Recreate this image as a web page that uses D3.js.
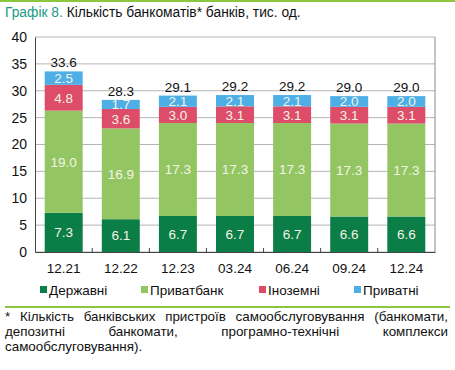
<!DOCTYPE html>
<html>
<head>
<meta charset="utf-8">
<script src="https://cdn.jsdelivr.net/npm/d3@7"></script>
<style>
  body { margin: 0; background: #fff; font-family: "Liberation Sans", Arial, sans-serif; }
  #wrap { position: relative; width: 455px; height: 370px; overflow: hidden; }
  #note {
    position: absolute; left: 5px; top: 310px; width: 443px;
    font-size: 13.4px; line-height: 14.8px; color: #111;
  }
  #note .j { text-align: justify; text-align-last: justify; }
</style>
</head>
<body>
<div id="wrap">
  <div id="chart"></div>
  <div id="note">
    <div class="j">* Кількість банківських пристроїв самообслуговування (банкомати,</div>
    <div class="j">депозитні банкомати, програмно-технічні комплекси</div>
    <div>самообслуговування).</div>
  </div>
</div>
<script>
// data, тис. од.
var periods = ["12.21", "12.22", "12.23", "03.24", "06.24", "09.24", "12.24"];
var seriesNames = ["Державні", "Приватбанк", "Іноземні", "Приватні"];
var derzhavni = [7.3, 6.1, 6.7, 6.7, 6.7, 6.6, 6.6];
var privatbank = [19.0, 16.9, 17.3, 17.3, 17.3, 17.3, 17.3];
var inozemni = [4.8, 3.6, 3.0, 3.1, 3.1, 3.1, 3.1];
var pryvatni = [2.5, 1.7, 2.1, 2.1, 2.1, 2.0, 2.0];
var totals = [33.6, 28.3, 29.1, 29.2, 29.2, 29.0, 29.0];
var yTicks = [0, 5, 10, 15, 20, 25, 30, 35, 40];

var colors = ["#0b7d46", "#93c663", "#dd4d69", "#4eafe6"];

var W = 455, H = 370;
var margin = { top: 37, left: 35, right: 20, bottom: 118 };
var width = W - margin.left - margin.right;
var height = H - margin.top - margin.bottom;
var fs = "13.5px";

// build rows for the stack
var rows = periods.map(function (p, i) {
    return { period: p, "Державні": derzhavni[i], "Приватбанк": privatbank[i],
             "Іноземні": inozemni[i], "Приватні": pryvatni[i], total: totals[i] };
});
var stacked = d3.stack().keys(seriesNames)(rows);

var svg = d3.select("#chart").append("svg")
    .attr("width", W).attr("height", H)
    .style("position", "absolute").style("left", 0).style("top", 0);

// top green rule + title
svg.append("rect").attr("x", 0).attr("y", 0).attr("width", W).attr("height", 2).attr("fill", "#8cc63e");
var title = svg.append("text").attr("x", 5).attr("y", 17)
    .style("font-size", "13.8px");
title.append("tspan").attr("fill", "#1d9a86").text("Графік 8. ");
title.append("tspan").attr("fill", "#111").text("Кількість банкоматів* банків, тис. од.");

var g = svg.append("g").attr("transform", "translate(" + margin.left + "," + margin.top + ")");

var x = d3.scaleBand().domain(periods).range([0, width]).paddingInner(0.335).paddingOuter(0.17);
var y = d3.scaleLinear().domain([0, 40]).range([height, 0]);

// gridlines
g.selectAll(".grid").data(yTicks).enter().append("line")
    .attr("x1", 0).attr("x2", width)
    .attr("y1", function (d) { return y(d); }).attr("y2", function (d) { return y(d); })
    .attr("stroke", "#b5b5b5").attr("stroke-width", 1);
// right border
g.append("line").attr("x1", width).attr("x2", width).attr("y1", 0).attr("y2", height)
    .attr("stroke", "#8a8a8a");

// y axis
var yAxis = g.append("g").call(d3.axisLeft(y).tickValues(yTicks).tickSize(0).tickPadding(8));
yAxis.select(".domain").attr("stroke", "#444");
yAxis.selectAll("text").style("font-size", "14px").style("font-family", "Liberation Sans, Arial, sans-serif").attr("fill", "#111");

// clip for each bar (labels get cut at the bar top like in the source)
rows.forEach(function (d, i) {
    svg.append("clipPath").attr("id", "clip" + i).append("rect")
        .attr("x", x(d.period)).attr("width", x.bandwidth())
        .attr("y", y(d.total)).attr("height", y(0) - y(d.total));
});

// bars
var layers = g.selectAll(".layer").data(stacked).enter().append("g")
    .attr("fill", function (d, i) { return colors[i]; });
layers.selectAll("rect").data(function (d) { return d; }).enter().append("rect")
    .attr("x", function (d) { return x(d.data.period); })
    .attr("width", x.bandwidth())
    .attr("y", function (d) { return y(d[1]); })
    .attr("height", function (d) { return y(d[0]) - y(d[1]); });

// segment labels
layers.each(function (s) {
    d3.select(this).selectAll("text").data(s).enter().append("text")
        .attr("clip-path", function (d, i) { return "url(#clip" + i + ")"; })
        .attr("x", function (d) { return x(d.data.period) + x.bandwidth() / 2; })
        .attr("y", function (d) { return (y(d[0]) + y(d[1])) / 2; })
        .attr("dy", "0.36em")
        .attr("text-anchor", "middle")
        .attr("fill", "#f4f4e4")
        .style("font-size", fs)
        .text(function (d) { return (d[1] - d[0]).toFixed(1); });
});

// totals
g.selectAll(".total").data(rows).enter().append("text")
    .attr("x", function (d) { return x(d.period) + x.bandwidth() / 2; })
    .attr("y", function (d) { return y(d.total) - 4; })
    .attr("text-anchor", "middle").attr("fill", "#111")
    .style("font-size", fs)
    .text(function (d) { return d.total.toFixed(1); });

// x axis
var xAxis = g.append("g").attr("transform", "translate(0," + height + ")")
    .call(d3.axisBottom(x).tickSize(0).tickPadding(11));
xAxis.select(".domain").attr("stroke", "#444");
xAxis.selectAll("text").style("font-size", fs).style("font-family", "Liberation Sans, Arial, sans-serif").attr("fill", "#111");
// small separators between categories
g.selectAll(".sep").data(periods.slice(1)).enter().append("line")
    .attr("x1", function (d) { return x(d) - x.step() * x.paddingInner() / 2; })
    .attr("x2", function (d) { return x(d) - x.step() * x.paddingInner() / 2; })
    .attr("y1", height - 4).attr("y2", height)
    .attr("stroke", "#444");

// legend
var legX = [40, 141, 259, 354];
var leg = svg.selectAll(".leg").data(seriesNames).enter().append("g")
    .attr("transform", function (d, i) { return "translate(" + legX[i] + ",290)"; });
leg.append("rect").attr("x", 0).attr("y", -4).attr("width", 7).attr("height", 7)
    .attr("fill", function (d, i) { return colors[i]; });
leg.append("text").attr("x", 9).attr("y", 0).attr("dy", "0.36em")
    .attr("fill", "#111").style("font-size", fs)
    .text(function (d) { return d; });

// green separator above the footnote
svg.append("rect").attr("x", 5).attr("y", 306).attr("width", 445).attr("height", 2).attr("fill", "#8cc63e");
</script>
</body>
</html>
